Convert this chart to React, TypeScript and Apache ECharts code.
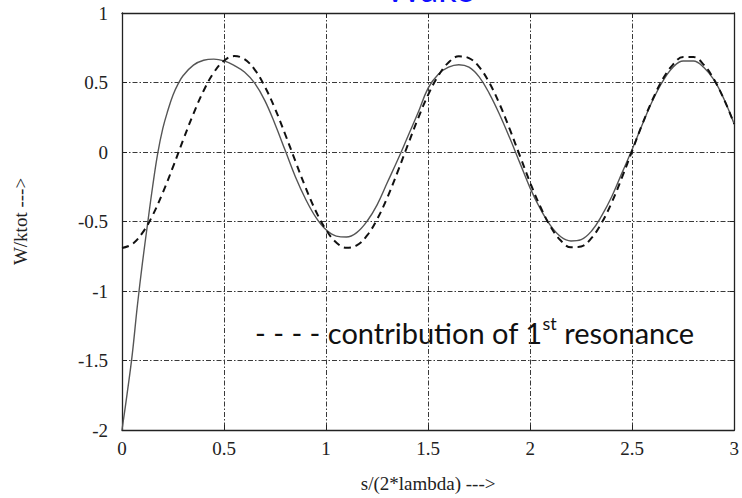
import React, { useEffect, useRef } from "react";
import * as echarts from "echarts";

const solidX = [0, 0.025, 0.05, 0.075, 0.1, 0.125, 0.15, 0.175, 0.2, 0.225, 0.25, 0.275, 0.3, 0.35, 0.4, 0.45, 0.5, 0.55, 0.6, 0.65, 0.7, 0.75, 0.8, 0.85, 0.9, 0.95, 1.0, 1.05, 1.1, 1.15, 1.2, 1.25, 1.3, 1.35, 1.4, 1.45, 1.5, 1.55, 1.6, 1.65, 1.7, 1.75, 1.8, 1.85, 1.9, 1.95, 2.0, 2.05, 2.1, 2.15, 2.2, 2.25, 2.3, 2.35, 2.4, 2.45, 2.5, 2.55, 2.6, 2.65, 2.7, 2.75, 2.8, 2.85, 2.9, 2.95, 3.0];
const solidW = [-2.0, -1.74, -1.46, -1.11, -0.8, -0.52, -0.25, -0.01, 0.17, 0.3, 0.41, 0.49, 0.55, 0.625, 0.66, 0.668, 0.655, 0.622, 0.575, 0.495, 0.37, 0.2, 0.01, -0.18, -0.34, -0.47, -0.56, -0.605, -0.612, -0.58, -0.5, -0.38, -0.22, -0.06, 0.11, 0.28, 0.46, 0.56, 0.61, 0.628, 0.61, 0.54, 0.42, 0.27, 0.1, -0.08, -0.26, -0.41, -0.53, -0.61, -0.64, -0.63, -0.57, -0.46, -0.32, -0.15, 0.02, 0.2, 0.37, 0.51, 0.61, 0.655, 0.655, 0.61, 0.52, 0.38, 0.2];

const dashX = [0, 0.05, 0.1, 0.15, 0.2, 0.25, 0.3, 0.35, 0.4, 0.45, 0.5, 0.55, 0.6, 0.65, 0.7, 0.75, 0.8, 0.85, 0.9, 0.95, 1.0, 1.05, 1.1, 1.15, 1.2, 1.25, 1.3, 1.35, 1.4, 1.45, 1.5, 1.55, 1.6, 1.65, 1.7, 1.75, 1.8, 1.85, 1.9, 1.95, 2.0, 2.05, 2.1, 2.15, 2.2, 2.25, 2.3, 2.35, 2.4, 2.45, 2.5, 2.55, 2.6, 2.65, 2.7, 2.75, 2.8, 2.85, 2.9, 2.95, 3.0];
const dashW = [-0.69, -0.663, -0.582, -0.456, -0.292, -0.107, 0.088, 0.275, 0.441, 0.572, 0.657, 0.69, 0.668, 0.593, 0.47, 0.311, 0.126, -0.068, -0.257, -0.426, -0.56, -0.651, -0.689, -0.672, -0.602, -0.484, -0.328, -0.145, 0.049, 0.239, 0.411, 0.549, 0.644, 0.688, 0.676, 0.612, 0.498, 0.345, 0.164, -0.029, -0.221, -0.394, -0.537, -0.637, -0.686, -0.68, -0.62, -0.511, -0.362, -0.183, 0.01, 0.202, 0.378, 0.525, 0.629, 0.683, 0.683, 0.629, 0.524, 0.378, 0.202];

const titleText = "Wake";
const xName = "s/(2*lambda) --->";
const yName = "W/ktot --->";

const serif = "'Liberation Serif', 'Times New Roman', serif";
const sans = "Lato, 'Open Sans', sans-serif";

export default function App() {
  const ref = useRef<HTMLDivElement>(null);
  useEffect(() => {
    if (!ref.current) return;
    const chart = echarts.init(ref.current, undefined, { renderer: "svg" });
    const grid = "#3a3a3a";
    const tick = { show: true, inside: true, length: 5, lineStyle: { color: "#222" } };
    chart.setOption({
      animation: false,
      backgroundColor: "#ffffff",
      grid: { left: 122, right: 5, top: 13, bottom: 63, containLabel: false },
      xAxis: [
        {
          type: "value",
          min: 0,
          max: 3,
          interval: 0.5,
          name: xName,
          nameLocation: "middle",
          nameGap: 44,
          nameTextStyle: { fontFamily: serif, fontSize: 19, color: "#222" },
          axisLine: { show: true, onZero: false, lineStyle: { color: "#222", width: 1.3 } },
          axisTick: tick,
          axisLabel: { fontFamily: serif, fontSize: 19, color: "#222", margin: 9 },
          splitLine: { show: true, lineStyle: { color: grid, width: 1, type: [5, 2, 1.5, 2] } },
        },
        {
          type: "value",
          position: "top",
          min: 0,
          max: 3,
          interval: 0.5,
          axisLine: { show: true, onZero: false, lineStyle: { color: "#222", width: 1.3 } },
          axisTick: tick,
          axisLabel: { show: false },
          splitLine: { show: false },
        },
      ],
      yAxis: [
        {
          type: "value",
          min: -2,
          max: 1,
          interval: 0.5,
          name: yName,
          nameLocation: "middle",
          nameGap: 92,
          nameTextStyle: { fontFamily: serif, fontSize: 19, color: "#222" },
          axisLine: { show: true, onZero: false, lineStyle: { color: "#222", width: 1.3 } },
          axisTick: tick,
          axisLabel: { fontFamily: serif, fontSize: 19, color: "#222", margin: 14 },
          splitLine: { show: true, lineStyle: { color: grid, width: 1, type: [5, 2, 1.5, 2] } },
        },
        {
          type: "value",
          position: "right",
          min: -2,
          max: 1,
          interval: 0.5,
          axisLine: { show: true, onZero: false, lineStyle: { color: "#222", width: 1.3 } },
          axisTick: tick,
          axisLabel: { show: false },
          splitLine: { show: false },
        },
      ],
      graphic: [
        {
          type: "text",
          left: 385,
          top: -30,
          style: {
            text: titleText,
            fontFamily: sans,
            fontSize: 36,
            fill: "#1010ff",
          },
        },
        {
          type: "text",
          left: 255,
          top: 314,
          style: {
            text: "{a|- - - - contribution of 1}{s|st}{a| resonance}",
            rich: {
              a: { fontFamily: sans, fontSize: 29, fill: "#111", lineHeight: 36 },
              s: { fontFamily: sans, fontSize: 18, fill: "#111", lineHeight: 36, verticalAlign: "top" },
            },
          },
        },
      ],
      series: [
        {
          type: "line",
          xAxisIndex: 0,
          yAxisIndex: 0,
          data: solidX.map((x, i) => [x, solidW[i]]),
          smooth: 0.4,
          showSymbol: false,
          lineStyle: { color: "#555", width: 1.4 },
        },
        {
          type: "line",
          xAxisIndex: 0,
          yAxisIndex: 0,
          data: dashX.map((x, i) => [x, dashW[i]]),
          smooth: 0.4,
          showSymbol: false,
          lineStyle: { color: "#111", width: 2, type: [7, 5] },
        },
      ],
    });
    return () => chart.dispose();
  }, []);
  return <div ref={ref} style={{ position: "absolute", left: 0, top: 0, width: 742, height: 498 }} />;
}
